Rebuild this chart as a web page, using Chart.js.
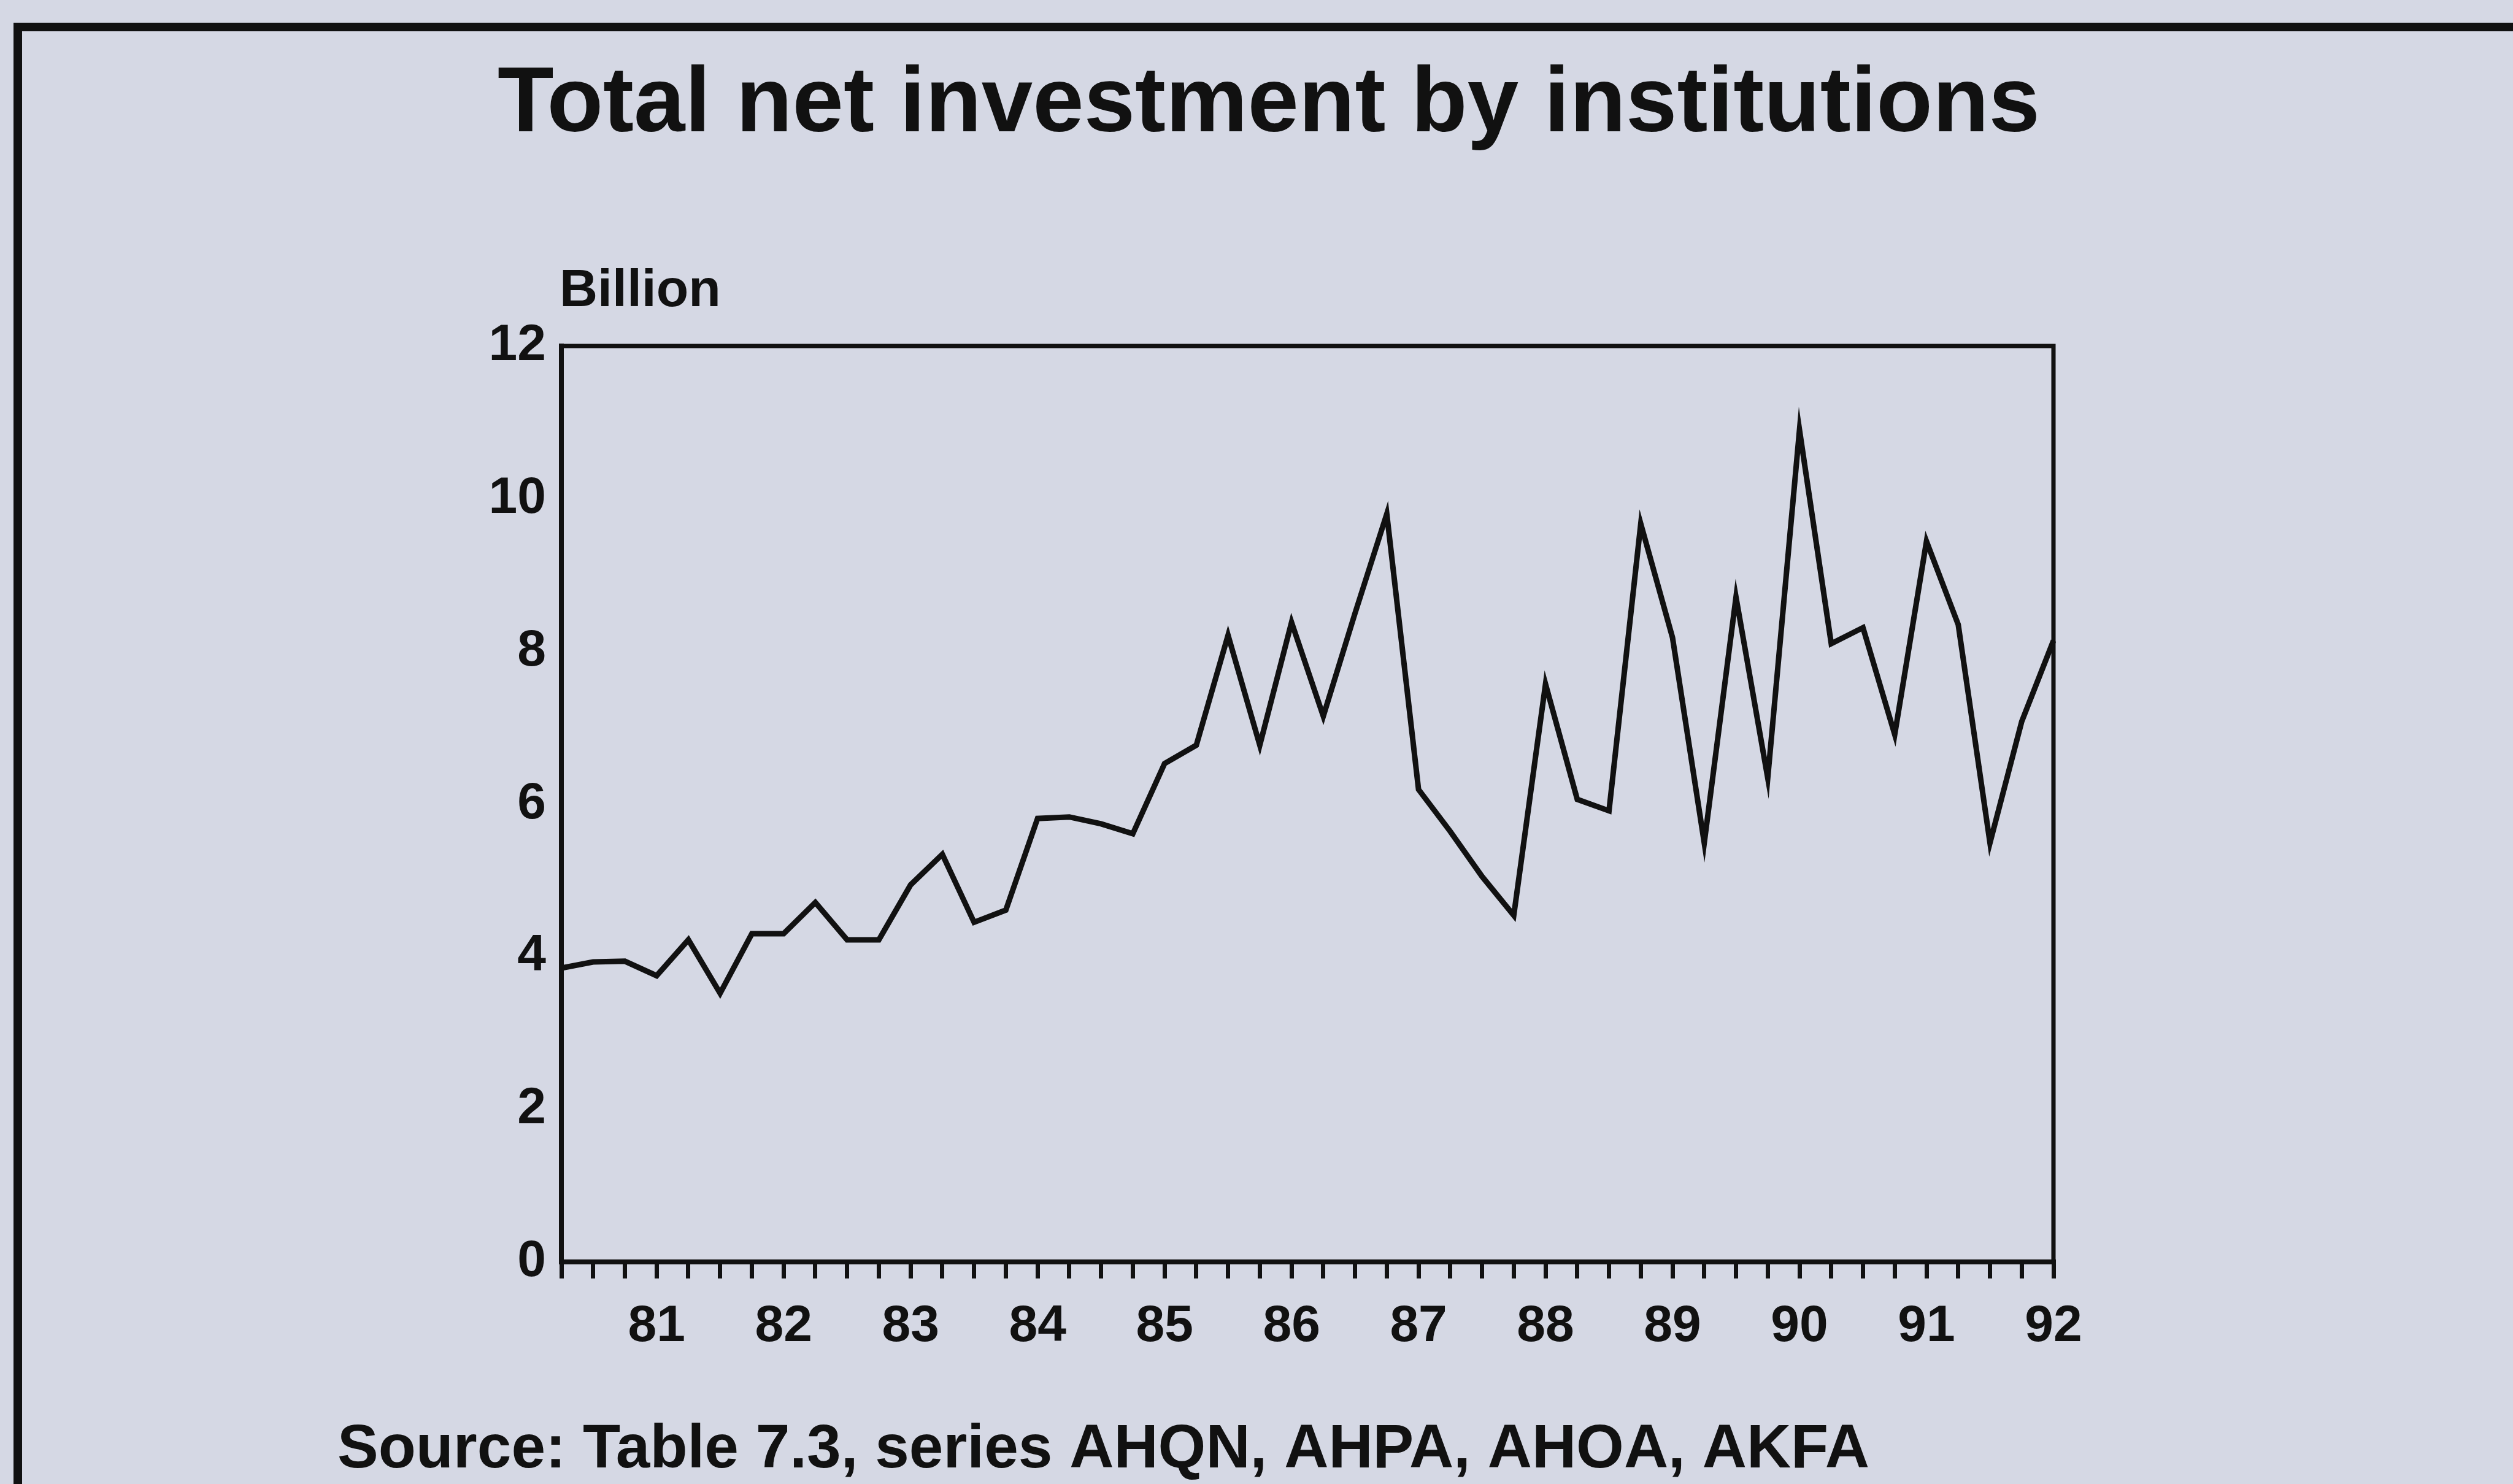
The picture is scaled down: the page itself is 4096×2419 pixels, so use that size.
<!DOCTYPE html>
<html>
<head>
<meta charset="utf-8">
<title>Total net investment by institutions</title>
<script src="https://cdn.jsdelivr.net/npm/chart.js@4/dist/chart.umd.min.js"></script>
<style>
    html, body { margin: 0; padding: 0; background: #d5d8e4; }
    #chart { display: block; }
</style>
</head>
<body>
<canvas id="chart" width="4096" height="2419"></canvas>
<script>
// quarterly points, first one is 1980 Q2, last one 1992 Q1
const yearLabels = ['81', '82', '83', '84', '85', '86', '87', '88', '89', '90', '91', '92'];
const leadingQuarters = ['80 Q2', '80 Q3', '80 Q4'];
const investment = [
    3.85, 3.93, 3.94,
    3.75, 4.22, 3.52, 4.30,
    4.30, 4.71, 4.22, 4.22,
    4.94, 5.34, 4.45, 4.61,
    5.81, 5.83, 5.74, 5.61,
    6.53, 6.77, 8.21, 6.77,
    8.38, 7.15, 8.50, 9.80,
    6.19, 5.64, 5.05, 4.54,
    7.57, 6.06, 5.91, 9.67,
    8.18, 5.49, 8.71, 6.34,
    10.90, 8.10, 8.31, 6.91,
    9.44, 8.35, 5.49, 7.08,
    8.14
];
const yTicks = [0, 2, 4, 6, 8, 10, 12];

const titleText = 'Total net investment by institutions';
const unitText = 'Billion';
const sourceText = 'Source: Table 7.3, series AHQN, AHPA, AHOA, AKFA';

// category labels: the year label sits on its Q1 point
let quarters = [...leadingQuarters];
yearLabels.forEach(y => {
    ['Q1', 'Q2', 'Q3', 'Q4'].forEach(q => quarters.push(`${y} ${q}`));
});
quarters = quarters.slice(0, investment.length);

const FONT = '"Liberation Sans", Arial, Helvetica, sans-serif';
const INK = '#111111';

const decorPlugin = {
    id: 'decor',
    beforeDraw(chart) {
        const ctx = chart.ctx;
        ctx.save();
        ctx.fillStyle = '#d5d8e4';
        ctx.fillRect(0, 0, chart.width, chart.height);
        // page frame, left and top
        ctx.strokeStyle = INK;
        ctx.lineWidth = 14;
        ctx.beginPath();
        ctx.moveTo(29, chart.height);
        ctx.lineTo(29, 44);
        ctx.lineTo(chart.width, 44);
        ctx.stroke();
        ctx.restore();
    },
    afterDraw(chart) {
        const ctx = chart.ctx, a = chart.chartArea;
        ctx.save();
        // top and right edges of the plot box
        ctx.strokeStyle = INK;
        ctx.lineWidth = 7;
        ctx.beginPath();
        ctx.moveTo(a.left, a.top);
        ctx.lineTo(a.right, a.top);
        ctx.lineTo(a.right, a.bottom);
        ctx.stroke();

        ctx.fillStyle = INK;
        ctx.textBaseline = 'alphabetic';
        ctx.textAlign = 'left';
        ctx.font = `bold 150px ${FONT}`;
        ctx.fillText(titleText, 811, 214);
        ctx.font = `bold 86px ${FONT}`;
        ctx.fillText(unitText, 912, 499);
        ctx.font = `bold 100px ${FONT}`;
        ctx.fillText(sourceText, 550, 2392);
        ctx.restore();
    }
};

new Chart(document.getElementById('chart'), {
    type: 'line',
    data: {
        labels: quarters,
        datasets: [{
            label: 'Total net investment',
            data: investment,
            borderColor: INK,
            borderWidth: 9,
            pointRadius: 0,
            tension: 0,
            borderJoinStyle: 'miter',
            fill: false
        }]
    },
    options: {
        responsive: false,
        devicePixelRatio: 1,
        animation: false,
        layout: { padding: { top: 564, left: 0, right: 749, bottom: 162 } },
        plugins: {
            legend: { display: false },
            title: { display: false },
            tooltip: { enabled: false }
        },
        scales: {
            x: {
                type: 'category',
                offset: false,
                afterFit: (scale) => { scale.height = 200; },
                grid: {
                    display: true,
                    drawOnChartArea: false,
                    drawTicks: true,
                    tickLength: 27,
                    tickWidth: 7,
                    tickColor: INK,
                    lineWidth: 7,
                    color: INK
                },
                border: { display: true, color: INK, width: 8 },
                ticks: {
                    autoSkip: false,
                    maxRotation: 0,
                    padding: 28,
                    color: INK,
                    font: { family: FONT, size: 84, weight: 'bold' },
                    callback: function (value, index) {
                        const lbl = quarters[index];
                        return lbl.endsWith('Q1') ? lbl.split(' ')[0] : '';
                    }
                }
            },
            y: {
                min: 0,
                max: 12,
                afterFit: (scale) => { scale.width = 915; },
                afterBuildTicks: (scale) => { scale.ticks = yTicks.map(v => ({ value: v })); },
                grid: { display: true, drawOnChartArea: false, drawTicks: false, lineWidth: 8, color: INK },
                border: { display: true, color: INK, width: 8 },
                ticks: {
                    padding: 25,
                    color: INK,
                    font: { family: FONT, size: 84, weight: 'bold' }
                }
            }
        }
    },
    plugins: [decorPlugin]
});
</script>
</body>
</html>
